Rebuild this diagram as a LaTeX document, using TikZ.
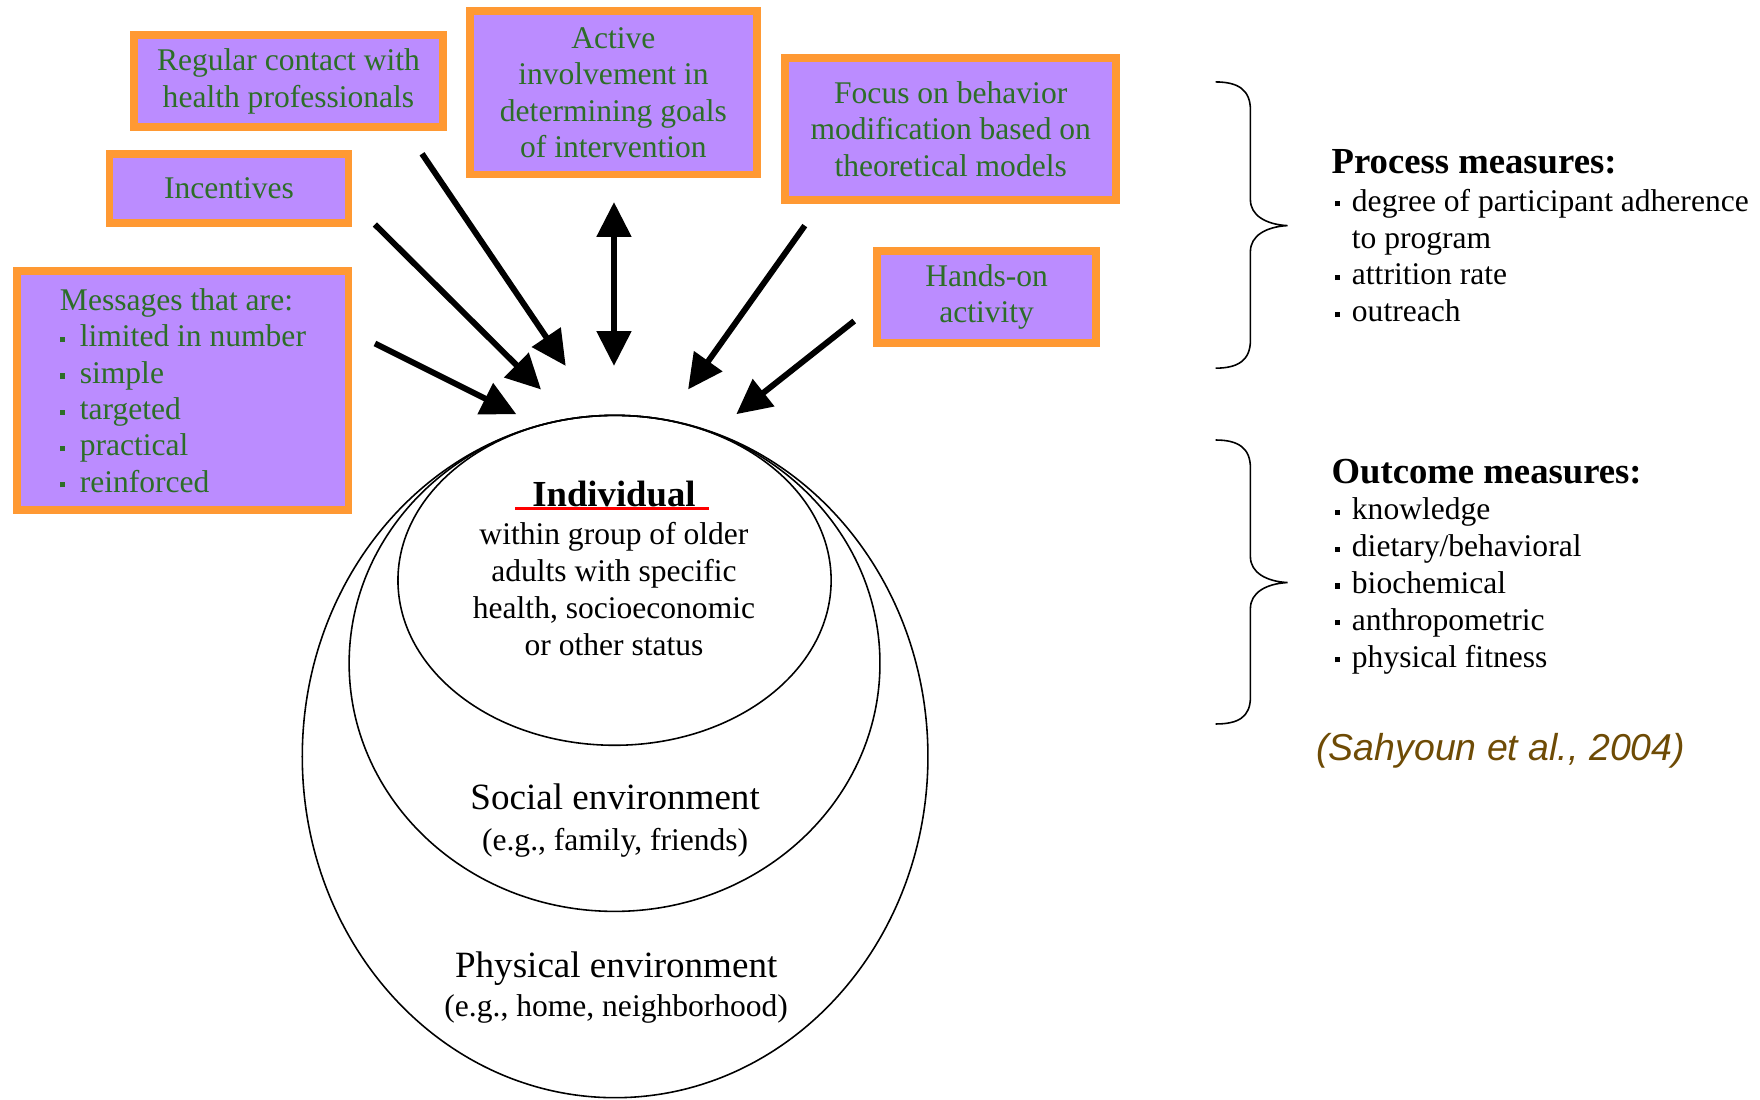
\documentclass[tikz,border=0pt]{standalone}
\usepackage{fontspec}
\setmainfont{Liberation Serif}
\newfontfamily\citefont{Liberation Sans}
\usetikzlibrary{arrows.meta}
\definecolor{boxorange}{RGB}{255,153,51}
\definecolor{boxfill}{RGB}{187,140,255}
\definecolor{boxtext}{RGB}{45,110,40}
\definecolor{citebrown}{RGB}{110,75,5}
\newcommand{\bul}{\raisebox{2.4pt}{\rule{2.6pt}{2.6pt}}\hspace{6pt}}
\tikzset{
  ibox/.style={draw=boxorange, line width=4pt, fill=boxfill, text=boxtext,
    align=center, inner sep=0pt, font=\fontsize{16}{18.4}\selectfont},
  ring/.style={line width=0.8pt},
  brc/.style={line width=0.8pt},
  arr/.style={line width=3pt, -{Triangle[length=0.62cm,width=0.6cm]}},
  body/.style={align=center, inner sep=0pt, font=\fontsize{16}{18.7}\selectfont},
  head/.style={inner sep=0pt, font=\fontsize{18.6}{21}\selectfont\bfseries},
  lst/.style={align=left, inner sep=0pt, font=\fontsize{16}{18.7}\selectfont}
}
\begin{document}
\begin{tikzpicture}[x=0.02cm,y=-0.02cm]
  \useasboundingbox (0,0) rectangle (1568,980);
  \node[ibox, minimum width=5.5cm, minimum height=1.64cm] (reg) at (257,72.5)
    {Regular contact with\\health professionals};
  \node[ibox, minimum width=5.12cm, minimum height=2.92cm] (act) at (546.5,82.5)
    {Active\\involvement in\\determining goals\\of intervention};
  \node[ibox, minimum width=5.9cm, minimum height=2.54cm] (foc) at (847,115)
    {Focus on behavior\\modification based on\\theoretical models};
  \node[ibox, minimum width=4.26cm, minimum height=1.22cm] (inc) at (204,168)
    {Incentives};
  \node[ibox, minimum width=3.9cm, minimum height=1.64cm] (hand) at (879,264.5)
    {Hands-on\\activity};
  \node[ibox, align=left, minimum width=5.9cm, minimum height=4.26cm] (msg) at (163,348)
    {Messages that are:\\\bul\hspace{1.5pt}limited in number\\\bul\hspace{1.5pt}simple\\\bul\hspace{1.5pt}targeted\\\bul\hspace{1.5pt}practical\\\bul\hspace{1.5pt}reinforced};

  \draw[ring] (548,674) ellipse [x radius=5.575cm, y radius=6.08cm];
  \draw[ring] (547.5,591) ellipse [x radius=4.73cm, y radius=4.42cm];
  \draw[ring] (547.5,517) ellipse [x radius=3.86cm, y radius=2.94cm];

  \node[head] (indh) at (547,440) {Individual};
  \draw[red, line width=1.7pt] (459,453) -- (632,453);
  \node[body] (indt) at (547,524.5)
    {within group of older\\adults with specific\\health, socioeconomic\\or other status};
  \node[body, font=\fontsize{16}{20.4}\selectfont] (soc) at (548,731)
    {{\fontsize{18.8}{21}\selectfont Social environment}\\(e.g., family, friends)};
  \node[body, font=\fontsize{16}{19.8}\selectfont] (phys) at (549,879.5)
    {{\fontsize{18.8}{21}\selectfont Physical environment}\\(e.g., home, neighborhood)};

  \coordinate (m0) at (334,306); \coordinate (m1) at (460,369);
  \coordinate (i0) at (334,200); \coordinate (i1) at (482,347);
  \coordinate (r0) at (376,137); \coordinate (r1) at (504,326);
  \coordinate (a0) at (547,180); \coordinate (a1) at (547,326);
  \coordinate (f0) at (717,201); \coordinate (f1) at (613,347);
  \coordinate (h0) at (761,286); \coordinate (h1) at (656,369);
  \begin{scope}[arr]
    \draw (m0) -- (m1);
    \draw (i0) -- (i1);
    \draw (r0) -- (r1);
    \draw[{Triangle[length=0.62cm,width=0.6cm]}-{Triangle[length=0.62cm,width=0.6cm]}] (a0) -- (a1);
    \draw (f0) -- (f1);
    \draw (h0) -- (h1);
  \end{scope}

  \draw[brc] (1083,73) .. controls (1103,73) and (1114,80) .. (1114,98) -- (1114,178)
    .. controls (1114,192) and (1128,200) .. (1147,201)
    .. controls (1128,202) and (1114,210) .. (1114,224) -- (1114,303)
    .. controls (1114,321) and (1103,328) .. (1083,328);
  \draw[brc] (1083,392) .. controls (1103,392) and (1114,399) .. (1114,417) -- (1114,496)
    .. controls (1114,510) and (1128,518) .. (1147,519)
    .. controls (1128,520) and (1114,528) .. (1114,542) -- (1114,621)
    .. controls (1114,639) and (1103,645) .. (1083,645);

  \node[head, anchor=base west] (proch) at (1186,155) {Process measures:};
  \node[lst, anchor=north west] (procl) at (1189,168)
    {\bul degree of participant adherence\\\phantom{\bul}to program\\\bul attrition rate\\\bul outreach};
  \node[head, anchor=base west] (outh) at (1186,431) {Outcome measures:};
  \node[lst, anchor=north west] (outl) at (1189,443)
    {\bul knowledge\\\bul dietary/behavioral\\\bul biochemical\\\bul anthropometric\\\bul physical fitness};

  \node[font=\citefont\itshape\fontsize{19}{23}\selectfont, text=citebrown] (cite) at (1337,669)
    {(Sahyoun et al., 2004)};
\end{tikzpicture}
\end{document}
